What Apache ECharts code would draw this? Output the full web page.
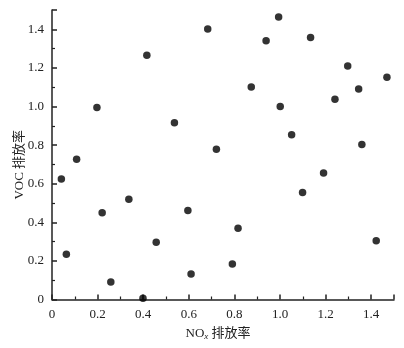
<!DOCTYPE html>
<html><head><meta charset="utf-8">
<script src="https://cdn.jsdelivr.net/npm/echarts@6/dist/echarts.min.js"></script>
<style>html,body{margin:0;padding:0;background:#fff}#c{width:404px;height:348px}</style>
</head><body><div id="c"></div>
<script>
const noxRate = [0.416,0.197,0.994,0.683,0.939,0.874,1.001,0.537,0.721,1.051,1.134,1.297,1.469,1.345,1.241,1.359,0.108,0.041,0.337,0.220,0.457,0.063,0.258,0.399,0.596,0.816,0.791,0.610,1.191,1.099,1.422];
const vocRate = [1.265,0.995,1.464,1.402,1.341,1.101,1.000,0.916,0.779,0.854,1.357,1.210,1.151,1.091,1.037,0.803,0.727,0.624,0.520,0.449,0.297,0.235,0.091,0.006,0.461,0.369,0.184,0.132,0.655,0.554,0.304];
const xName = 'NO{sub|x} 排放率';
const yName = 'VOC 排放率';
const font = '"Liberation Serif", "Noto Sans CJK SC", serif';
const fmt = v => v === 0 ? '0' : v.toFixed(1);
const axisCommon = {
  min: 0, max: 1.5, interval: 0.2,
  axisLine: {show: true, onZero: false, lineStyle: {color: '#222', width: 1.5}},
  axisTick: {show: true, inside: true, length: 5, lineStyle: {color: '#222', width: 1.5}},
  minorTick: {show: true, splitNumber: 2, length: 3, lineStyle: {color: '#222', width: 1.2}},
  splitLine: {show: false},
  axisLabel: {color: '#222', fontFamily: font, fontSize: 13, formatter: fmt, showMaxLabel: false},
  nameLocation: 'middle',
  nameMoveOverlap: false,
  nameTextStyle: {color: '#222', fontFamily: font, fontSize: 13}
};
const chart = echarts.init(document.getElementById('c'), null, {renderer: 'canvas'});
chart.setOption({
  animation: false,
  grid: {left: 52, right: 10, top: 10, bottom: 48.5, containLabel: false, outerBoundsMode: 'none'},
  xAxis: Object.assign({}, axisCommon, {
    type: 'value', name: xName, nameGap: 27,
    axisLabel: Object.assign({}, axisCommon.axisLabel, {margin: 9}),
    nameTextStyle: Object.assign({}, axisCommon.nameTextStyle, {
      padding: [0, 10, 0, 0],
      rich: {sub: {fontFamily: font, fontStyle: 'italic', fontSize: 9, color: '#222', verticalAlign: 'bottom', padding: [6, 0, 0, 0]}}
    })
  }),
  yAxis: Object.assign({}, axisCommon, {
    type: 'value', name: yName, nameGap: 26,
    axisLabel: Object.assign({}, axisCommon.axisLabel, {margin: 8}),
    nameTextStyle: Object.assign({}, axisCommon.nameTextStyle, {padding: [0, 20, 0, 0]})
  }),
  series: [{
    type: 'scatter',
    symbol: 'circle',
    symbolSize: 7.5,
    itemStyle: {color: '#000'},
    data: noxRate.map((x, i) => [x, vocRate[i]])
  }]
});
</script></body></html>
